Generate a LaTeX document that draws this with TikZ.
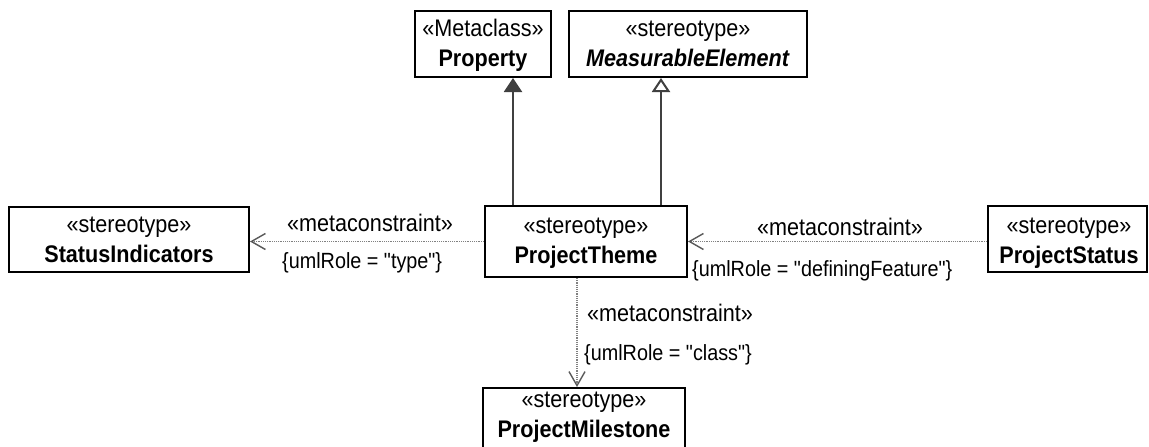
\documentclass[tikz,border=0pt]{standalone}
\usepackage{fontspec}
\setmainfont{Liberation Sans}[FakeStretch=0.9,Ligatures=TeXOff]
\usetikzlibrary{arrows.meta}

\begin{document}
\begin{tikzpicture}[x=1pt,y=-1pt,
  box/.style={draw=black, line width=2pt, fill=white, inner sep=0pt},
  txt/.style={anchor=base, inner sep=0pt, font=\fontsize{24}{28}\selectfont},
  note/.style={anchor=base west, inner sep=0pt, font=\fontsize{22}{26}\selectfont},
  gen/.style={draw=black!75, line width=2pt},
  mc/.style={draw=black!50, line width=1.2pt, dash pattern=on 1.2pt off 1pt,
    -{Straight Barb[length=14pt,width=16pt,line width=1.4pt,color=black!65]}}
]
\useasboundingbox (0,0) rectangle (1149,447);
\fill[white] (0,0) rectangle (1149,447);
\clip (0,0) rectangle (1149,447);

% class boxes
\node[box, minimum width=136pt, minimum height=66pt] (prop) at (483,44) {};
\node[box, minimum width=238pt, minimum height=66pt] (meas) at (688,44) {};
\node[box, minimum width=240pt, minimum height=65pt] (si) at (129,239.5) {};
\node[box, minimum width=202pt, minimum height=71pt] (pt) at (586,241.5) {};
\node[box, minimum width=159pt, minimum height=66pt] (ps) at (1067.5,239) {};
\node[box, minimum width=202pt, minimum height=70pt] (pm) at (584,423) {};

% box texts
\node[txt] (propS) at (483,36) {«Metaclass»};
\node[txt] (propN) at (483,66) {\textbf{Property}};
\node[txt] (measS) at (688,36) {«stereotype»};
\node[txt] (measN) at (688,66) {\textbf{\textit{MeasurableElement}}};
\node[txt] (siS) at (129,232) {«stereotype»};
\node[txt] (siN) at (129,262) {\textbf{StatusIndicators}};
\node[txt] (ptS) at (586,233) {«stereotype»};
\node[txt] (ptN) at (586,263) {\textbf{ProjectTheme}};
\node[txt] (psS) at (1069,233) {«stereotype»};
\node[txt] (psN) at (1069,263) {\textbf{ProjectStatus}};
\node[txt] (pmS) at (584,407) {«stereotype»};
\node[txt] (pmN) at (584,437) {\textbf{ProjectMilestone}};

% generalisations
\draw[gen, -{Triangle[length=14pt,width=18pt]}]
  ([xshift=-73pt]pt.north) -- ([xshift=-73pt]pt.north |- prop.south);
\draw[gen, -{Triangle[open,length=14pt,width=18pt,fill=white]}]
  ([xshift=75pt]pt.north) -- ([xshift=75pt]pt.north |- meas.south);

% metaconstraints
\draw[mc] (pt.west) -- (si.east |- pt.west);
\draw[mc] (ps.west |- pt.east) -- (pt.east);
\draw[mc] ([xshift=-9pt]pt.south) -- ([xshift=-9pt]pt.south |- pm.north);

% metaconstraint labels
\node[txt] (l1) at (370,231) {«metaconstraint»};
\node[note] (r1) at (282,268) {\{umlRole = "type"\}};
\node[txt] (l2) at (840,235) {«metaconstraint»};
\node[note] (r2) at (692,276) {\{umlRole = "definingFeature"\}};
\node[txt, anchor=base west] (l3) at (587,321) {«metaconstraint»};
\node[note] (r3) at (584,360) {\{umlRole = "class"\}};
\end{tikzpicture}
\end{document}
